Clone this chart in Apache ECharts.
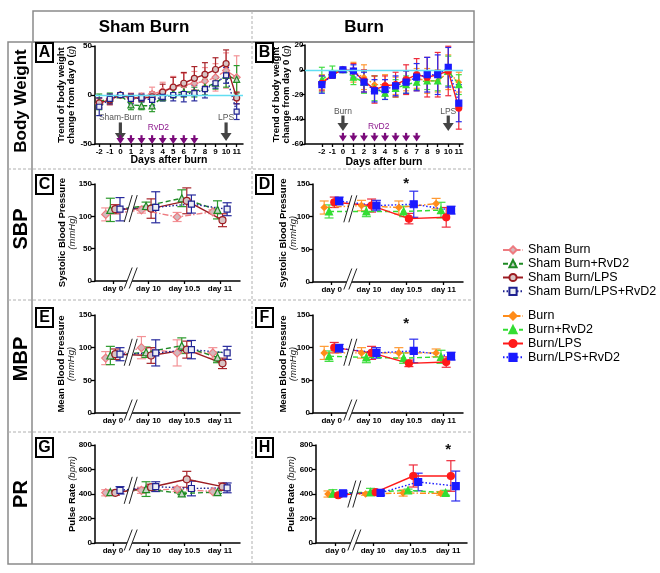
<!DOCTYPE html>
<html><head><meta charset="utf-8">
<script src="https://cdn.jsdelivr.net/npm/echarts@6/dist/echarts.min.js"></script>
<style>html,body{margin:0;padding:0;background:#fff}#c{width:660px;height:573px}</style>
</head><body><div id="c"></div>
<script>
const FONT = '"Liberation Sans", Arial, Helvetica, sans-serif';

// ---------- Body weight (A: sham, B: burn) ----------
const bwDays = [-2,-1,0,1,2,3,4,5,6,7,8,9,10,11];
const bwShamBurn        = [-9,-4,0,-3,-2,1,4,8,10,12,14,18,25,18];
const bwShamBurnErr     = [5,5,2,5,4,7,9,11,12,12,14,14,18,22];
const bwShamRvD2        = [-7,-3,0,-10,-11,-11,-2,2,3,3,8,12,20,16];
const bwShamRvD2Err     = [8,5,2,5,4,6,4,5,5,5,8,6,12,14];
const bwShamLPS         = [-8,-5,0,-3,-3,-2,3,8,12,17,21,26,32,-3];
const bwShamLPSErr      = [5,5,2,4,3,5,8,10,11,12,12,12,14,6];
const bwShamLPSRvD2     = [-12,-4,0,-4,-3,-5,-2,0,1,2,6,12,20,-17];
const bwShamLPSRvD2Err  = [9,5,2,5,4,6,4,6,8,8,9,5,8,8];
const bwBurn            = [-10,-4,0,-2,-6,-12,-12,-13,-9,-7,-9,-9,-2,-10];
const bwBurnErr         = [6,3,1,8,10,7,8,7,8,8,10,9,14,8];
const bwBurnRvD2        = [-8,-2,0,-6,-10,-15,-19,-15,-12,-10,-9,-9,-1,-12];
const bwBurnRvD2Err     = [10,5,1,6,9,10,5,7,7,6,7,8,12,8];
const bwBurnLPS         = [-11,-4,0,-1,-9,-16,-13,-12,-8,-4,-6,-4,-1,-31];
const bwBurnLPSErr      = [6,3,1,6,9,11,8,10,12,13,16,18,20,17];
const bwBurnLPSRvD2     = [-12,-4,0,-1,-10,-17,-16,-13,-10,-6,-4,-4,2,-27];
const bwBurnLPSRvD2Err  = [7,3,1,5,8,9,8,8,9,11,14,16,16,15];

// injection schedule
const rvd2Days = [0,1,2,3,4,5,6,7];
const injDays = [0,10];
const injLabelsSham = ['Sham-Burn','LPS'];
const injLabelsBurn = ['Burn','LPS'];

// ---------- Hemodynamics (C-H) ----------
const hemoLabels = ['day 0','day 10','day 10.5','day 11'];
const hemoPos = [0,1,2,3];

const sbpShamBurn=[103,110,99,107],  sbpShamBurnErr=[10,5,7,3];
const sbpShamRvD2=[110,116,128,110], sbpShamRvD2Err=[18,6,13,14];
const sbpShamLPS=[111,112,124,94],   sbpShamLPSErr=[7,15,20,10];
const sbpShamLPSRvD2=[111,114,119,111], sbpShamLPSRvD2Err=[18,24,14,10];
const sbpBurn=[114,117,114,120],     sbpBurnErr=[10,8,10,8];
const sbpBurnRvD2=[108,108,108,110], sbpBurnRvD2Err=[10,8,8,12];
const sbpBurnLPS=[122,117,97,99],    sbpBurnLPSErr=[8,10,8,15];
const sbpBurnLPSRvD2=[124,117,119,110], sbpBurnLPSRvD2Err=[6,8,20,6];

const mbpShamBurn=[84,100,92,92],    mbpShamBurnErr=[10,17,20,8];
const mbpShamRvD2=[88,93,103,85],    mbpShamRvD2Err=[14,8,12,8];
const mbpShamLPS=[90,88,97,76],      mbpShamLPSErr=[8,12,13,8];
const mbpShamLPSRvD2=[90,92,97,92],  mbpShamLPSRvD2Err=[10,20,14,10];
const mbpBurn=[92,92,92,92],         mbpBurnErr=[10,8,8,6];
const mbpBurnRvD2=[87,85,84,86],     mbpBurnRvD2Err=[8,8,8,10];
const mbpBurnLPS=[100,92,76,78],     mbpBurnLPSErr=[8,10,5,8];
const mbpBurnLPSRvD2=[99,92,95,87],  mbpBurnLPSRvD2Err=[6,8,18,6];

const prShamBurn=[410,430,440,420],  prShamBurnErr=[25,25,20,10];
const prShamRvD2=[415,440,405,415],  prShamRvD2Err=[10,60,10,10];
const prShamLPS=[410,455,520,460],   prShamLPSErr=[20,25,65,30];
const prShamLPSRvD2=[430,460,445,450], prShamLPSRvD2Err=[30,40,60,40];
const prBurn=[400,400,408,405],      prBurnErr=[25,10,25,15];
const prBurnRvD2=[405,416,430,410],  prBurnRvD2Err=[30,30,10,20];
const prBurnLPS=[390,415,547,547],   prBurnLPSErr=[15,15,90,125];
const prBurnLPSRvD2=[405,410,498,465], prBurnLPSRvD2Err=[20,20,72,122];

// significance marks: [position, value]
const sigSBP = [[2,150]];
const sigMBP = [[2,136]];
const sigPR  = [[3,760]];

const shamNames = ['Sham Burn','Sham Burn+RvD2','Sham Burn/LPS','Sham Burn/LPS+RvD2'];
const burnNames = ['Burn','Burn+RvD2','Burn/LPS','Burn/LPS+RvD2'];

// ---------- styles ----------
const shamStyles = [
  {color:'#ee7b80', err:'#f39296', dash:[6,2,1.5,2], symbol:'diamond', size:8, fill:'#d4b8bc'},
  {color:'#1f8a24', err:'#2c9a2c', dash:[5,3], symbol:'triangle', size:7, fill:'#c8d4c8'},
  {color:'#9c1c22', err:'#a8242a', dash:'solid', symbol:'circle', size:7, fill:'#d8c4c4'},
  {color:'#1e2190', err:'#26299c', dash:[1.5,2], symbol:'rect', size:6, fill:'#eceef4'}
];
const burnStyles = [
  {color:'#ff8c1a', err:'#ff9a33', dash:[6,2,1.5,2], symbol:'diamond', size:6, fill:'#ff8c1a'},
  {color:'#33dd33', err:'#44dd44', dash:[5,3], symbol:'triangle', size:7, fill:'#33dd33'},
  {color:'#ff1a1a', err:'#ee2b3b', dash:'solid', symbol:'circle', size:7, fill:'#ff1a1a'},
  {color:'#1a1aff', err:'#2a2aee', dash:[1.5,2], symbol:'rect', size:7, fill:'#1a1aff'}
];
const dodge = [-0.2,-0.07,0.07,0.2];

const richName = {
  b:{fontWeight:'bold', fontSize:9.5, fontFamily:FONT, color:'#000'},
  i:{fontStyle:'italic', fontSize:9.5, fontFamily:FONT, color:'#222'}
};

const panels = [
  {grid:{left:95,top:46,width:148,height:98}, xmin:-2.4, xmax:11.6, ymin:-50, ymax:50, yint:50,
   xs:bwDays, sets:[[bwShamBurn,bwShamBurnErr],[bwShamRvD2,bwShamRvD2Err],[bwShamLPS,bwShamLPSErr],[bwShamLPSRvD2,bwShamLPSRvD2Err]],
   names:shamNames, styles:shamStyles, bw:true, nameGap:19, labMargin:3, xName:'Days after burn', xNameGap:11,
   yName:'{b|Trend of body weight}\n{b|change from day 0 (}{i|g}{b|)}', inj:injLabelsSham,
   ann:{gTop:-28,gBot:-47,gLab:-23.5,pTop:-41,pBot:-50,rx:3.6,ry:-33}},
  {grid:{left:305,top:45,width:158,height:99}, xmin:-3.6, xmax:11.4, ymin:-60, ymax:20, yint:20,
   xs:bwDays, sets:[[bwBurn,bwBurnErr],[bwBurnRvD2,bwBurnRvD2Err],[bwBurnLPS,bwBurnLPSErr],[bwBurnLPSRvD2,bwBurnLPSRvD2Err]],
   names:burnNames, styles:burnStyles, bw:true, nameGap:14, labMargin:1.5, xName:'Days after burn', xNameGap:13,
   yName:'{b|Trend of body weight}\n{b|change from day 0 (}{i|g}{b|)}', inj:injLabelsBurn,
   ann:{gTop:-37,gBot:-49.5,gLab:-33.5,pTop:-51,pBot:-58,rx:3.4,ry:-46}},
  {grid:{left:95,top:184,width:145,height:97}, xmin:-0.5, xmax:3.56, ymin:0, ymax:150, yint:50,
   xs:hemoPos, sets:[[sbpShamBurn,sbpShamBurnErr],[sbpShamRvD2,sbpShamRvD2Err],[sbpShamLPS,sbpShamLPSErr],[sbpShamLPSRvD2,sbpShamLPSRvD2Err]],
   names:shamNames, styles:shamStyles, nameGap:18, labMargin:3, yName:'{b|Systolic Blood Pressure}\n{i|(mmHg)}', brk:112, sig:[]},
  {grid:{left:313,top:184,width:150,height:98}, xmin:-0.5, xmax:3.52, ymin:0, ymax:150, yint:50,
   xs:hemoPos, sets:[[sbpBurn,sbpBurnErr],[sbpBurnRvD2,sbpBurnRvD2Err],[sbpBurnLPS,sbpBurnLPSErr],[sbpBurnLPSRvD2,sbpBurnLPSRvD2Err]],
   names:burnNames, styles:burnStyles, nameGap:15, labMargin:3, yName:'{b|Systolic Blood Pressure}\n{i|(mmHg)}', brk:112, sig:sigSBP},
  {grid:{left:95,top:315,width:145,height:98}, xmin:-0.5, xmax:3.56, ymin:0, ymax:150, yint:50,
   xs:hemoPos, sets:[[mbpShamBurn,mbpShamBurnErr],[mbpShamRvD2,mbpShamRvD2Err],[mbpShamLPS,mbpShamLPSErr],[mbpShamLPSRvD2,mbpShamLPSRvD2Err]],
   names:shamNames, styles:shamStyles, nameGap:19, labMargin:3, yName:'{b|Mean Blood Pressure}\n{i|(mmHg)}', brk:93, sig:[]},
  {grid:{left:313,top:315,width:150,height:98}, xmin:-0.5, xmax:3.52, ymin:0, ymax:150, yint:50,
   xs:hemoPos, sets:[[mbpBurn,mbpBurnErr],[mbpBurnRvD2,mbpBurnRvD2Err],[mbpBurnLPS,mbpBurnLPSErr],[mbpBurnLPSRvD2,mbpBurnLPSRvD2Err]],
   names:burnNames, styles:burnStyles, nameGap:15, labMargin:3, yName:'{b|Mean Blood Pressure}\n{i|(mmHg)}', brk:93, sig:sigMBP},
  {grid:{left:95,top:445,width:145,height:98}, xmin:-0.5, xmax:3.56, ymin:0, ymax:800, yint:200,
   xs:hemoPos, sets:[[prShamBurn,prShamBurnErr],[prShamRvD2,prShamRvD2Err],[prShamLPS,prShamLPSErr],[prShamLPSRvD2,prShamLPSRvD2Err]],
   names:shamNames, styles:shamStyles, nameGap:18, labMargin:3, yName:'{b|Pulse Rate }{i|(bpm)}', brk:430, sig:[]},
  {grid:{left:316,top:445,width:151,height:98}, xmin:-0.52, xmax:3.5, ymin:0, ymax:800, yint:200,
   xs:hemoPos, sets:[[prBurn,prBurnErr],[prBurnRvD2,prBurnRvD2Err],[prBurnLPS,prBurnLPSErr],[prBurnLPSRvD2,prBurnLPSRvD2Err]],
   names:burnNames, styles:burnStyles, nameGap:20, labMargin:3, yName:'{b|Pulse Rate }{i|(bpm)}', brk:400, sig:sigPR}
];

function errRender(cap, color, lw){
  return function(params, api){
    const x = api.value(0), lo = api.value(1), hi = api.value(2);
    const p1 = api.coord([x, lo]), p2 = api.coord([x, hi]);
    const st = {stroke: color, lineWidth: lw};
    return {type:'group', children:[
      {type:'line', shape:{x1:p1[0],y1:p1[1],x2:p2[0],y2:p2[1]}, style:st},
      {type:'line', shape:{x1:p1[0]-cap/2,y1:p1[1],x2:p1[0]+cap/2,y2:p1[1]}, style:st},
      {type:'line', shape:{x1:p2[0]-cap/2,y1:p2[1],x2:p2[0]+cap/2,y2:p2[1]}, style:st}
    ]};
  };
}

const grids=[], xAxes=[], yAxes=[], series=[];
panels.forEach((p, g) => {
  grids.push(Object.assign({containLabel:false}, p.grid));
  const axLine = {show:true, onZero:false, lineStyle:{color:'#000', width:1.5}};
  xAxes.push({gridIndex:g, type:'value', min:p.xmin, max:p.xmax,
    axisLine:axLine,
    axisTick:{show:true, customValues:p.xs, length:3, lineStyle:{color:'#000', width:1.3}},
    axisLabel:{customValues:p.xs, fontSize:8, fontWeight:'bold', fontFamily:FONT, color:'#000', margin:4,
      formatter: p.bw ? (v => String(v)) : (v => hemoLabels[hemoPos.indexOf(Math.round(v))])},
    splitLine:{show:false},
    name: p.xName || '', nameLocation:'middle', nameGap: p.xNameGap || 10, nameMoveOverlap:false,
    nameTextStyle:{fontSize:10.5, fontWeight:'bold', fontFamily:FONT, color:'#000'}
  });
  yAxes.push({gridIndex:g, type:'value', min:p.ymin, max:p.ymax, interval:p.yint,
    axisLine:{show:true, onZero:false, lineStyle:{color:'#000', width:1.5}},
    axisTick:{show:true, length:4, lineStyle:{color:'#000', width:1.3}},
    axisLabel:{fontSize:8, fontWeight:'bold', fontFamily:FONT, color:'#000', margin:p.labMargin},
    splitLine:{show:false},
    name:p.yName, nameLocation:'middle', nameRotate:90, nameGap:p.nameGap, nameMoveOverlap:false,
    nameTextStyle:{align:'center', rich:richName}
  });
  p.sets.forEach((set, s) => {
    const st = p.styles[s];
    const off = p.bw ? 0 : dodge[s];
    const mean = set[0], err = set[1];
    series.push({type:'custom', name:'err'+g+'_'+s, xAxisIndex:g, yAxisIndex:g, silent:true, z:2,
      data: p.xs.map((x,i)=>[x+off, mean[i]-err[i], mean[i]+err[i]]),
      encode:{x:0, y:[1,2]},
      renderItem: errRender(p.bw ? 6 : 9, st.err, 1.2)});
    const line = {type:'line', name:p.names[s], xAxisIndex:g, yAxisIndex:g, z:3,
      data: p.xs.map((x,i)=>[x+off, mean[i]]),
      symbol: st.symbol, symbolSize: p.bw ? st.size-1 : st.size,
      lineStyle:{color:st.color, width:1.4, type:st.dash},
      itemStyle:{color:st.fill, borderColor:st.color, borderWidth:1.2},
      emphasis:{disabled:true}};
    if (p.bw && s === 0) {
      line.markLine = {silent:true, symbol:'none', label:{show:false}, animation:false,
        lineStyle:{color:'#62def2', width:1.3, type:'solid'}, data:[{yAxis:0}]};
    }
    series.push(line);
  });
  if (p.bw) {
    const a = p.ann;
    series.push({type:'custom', xAxisIndex:g, yAxisIndex:g, silent:true, z:5,
      data: injDays.map((d,i)=>[d, a.gTop, a.gBot, i]),
      renderItem:(params, api)=>{
        const t = api.coord([api.value(0), api.value(1)]);
        const b = api.coord([api.value(0), api.value(2)]);
        const lab = api.coord([api.value(0), a.gLab]);
        const x = t[0];
        return {type:'group', children:[
          {type:'rect', shape:{x:x-1.6, y:t[1], width:3.2, height:b[1]-t[1]-6}, style:{fill:'#444'}},
          {type:'polygon', shape:{points:[[x-5.5,b[1]-8],[x+5.5,b[1]-8],[x,b[1]]]}, style:{fill:'#444'}},
          {type:'text', x:x, y:lab[1], style:{text:p.inj[api.value(3)], fill:'#555', font:'8.5px '+FONT, textAlign:'center', textVerticalAlign:'middle'}}
        ]};
      }});
    series.push({type:'custom', xAxisIndex:g, yAxisIndex:g, silent:true, z:5,
      data: rvd2Days.map(d=>[d, a.pTop, a.pBot]),
      renderItem:(params, api)=>{
        const t = api.coord([api.value(0), api.value(1)]);
        const b = api.coord([api.value(0), api.value(2)]);
        const x = t[0];
        const ch = [
          {type:'rect', shape:{x:x-1.1, y:t[1], width:2.2, height:b[1]-t[1]-5}, style:{fill:'#7a0a7a'}},
          {type:'polygon', shape:{points:[[x-4,b[1]-6],[x+4,b[1]-6],[x,b[1]]]}, style:{fill:'#7a0a7a'}}
        ];
        if (params.dataIndex === 0) {
          const r = api.coord([a.rx, a.ry]);
          ch.push({type:'text', x:r[0], y:r[1], style:{text:'RvD2', fill:'#8e1a8e', font:'8.5px '+FONT, textAlign:'center', textVerticalAlign:'middle'}});
        }
        return {type:'group', children:ch};
      }});
  } else {
    series.push({type:'custom', xAxisIndex:g, yAxisIndex:g, silent:true, z:10,
      data:[[0.5, p.brk, p.ymin]],
      renderItem:(params, api)=>{
        const u = api.coord([api.value(0), api.value(1)]);
        const d = api.coord([api.value(0), api.value(2)]);
        const mk = (cx, cy, h) => {
          const dx = 4, gap = 5;
          const pts = [[cx-gap/2-dx, cy+h/2],[cx-gap/2+dx, cy-h/2],[cx+gap/2+dx, cy-h/2],[cx+gap/2-dx, cy+h/2]];
          return [
            {type:'polygon', shape:{points:pts}, style:{fill:'#fff'}},
            {type:'line', shape:{x1:pts[0][0],y1:pts[0][1],x2:pts[1][0],y2:pts[1][1]}, style:{stroke:'#222', lineWidth:1}},
            {type:'line', shape:{x1:pts[3][0],y1:pts[3][1],x2:pts[2][0],y2:pts[2][1]}, style:{stroke:'#222', lineWidth:1}}
          ];
        };
        return {type:'group', children: mk(u[0], u[1], 27).concat(mk(d[0], d[1]-3, 21))};
      }});
    if (p.sig.length) {
      series.push({type:'custom', xAxisIndex:g, yAxisIndex:g, silent:true, z:6,
        data:p.sig,
        renderItem:(params, api)=>{
          const c = api.coord([api.value(0), api.value(1)]);
          return {type:'text', x:c[0], y:c[1], style:{text:'*', fill:'#111', font:'bold 15px '+FONT, textAlign:'center', textVerticalAlign:'middle'}};
        }});
    }
  }
});

const solid = {stroke:'#8a8a8a', lineWidth:1.5, fill:'none'};
const dashed = {stroke:'#b0b0b0', lineWidth:1, lineDash:[3,2]};
const graphics = [
  {type:'rect', shape:{x:33,y:11,width:441,height:31}, style:solid},
  {type:'rect', shape:{x:8,y:42,width:466,height:522}, style:solid},
  {type:'line', shape:{x1:32,y1:42,x2:32,y2:564}, style:solid},
  {type:'line', shape:{x1:252,y1:11,x2:252,y2:564}, style:dashed},
  {type:'line', shape:{x1:8,y1:169,x2:474,y2:169}, style:dashed},
  {type:'line', shape:{x1:8,y1:300,x2:474,y2:300}, style:dashed},
  {type:'line', shape:{x1:8,y1:432,x2:474,y2:432}, style:dashed},
  {type:'text', x:144, y:27, style:{text:'Sham Burn', font:'bold 17px '+FONT, fill:'#000', textAlign:'center', textVerticalAlign:'middle'}},
  {type:'text', x:364, y:27, style:{text:'Burn', font:'bold 17px '+FONT, fill:'#000', textAlign:'center', textVerticalAlign:'middle'}},
  {type:'text', x:21, y:101, rotation:Math.PI/2, style:{text:'Body Weight', font:'bold 17px '+FONT, fill:'#000', textAlign:'center', textVerticalAlign:'middle'}},
  {type:'text', x:21, y:229, rotation:Math.PI/2, style:{text:'SBP', font:'bold 20px '+FONT, fill:'#000', textAlign:'center', textVerticalAlign:'middle'}},
  {type:'text', x:21, y:359, rotation:Math.PI/2, style:{text:'MBP', font:'bold 20px '+FONT, fill:'#000', textAlign:'center', textVerticalAlign:'middle'}},
  {type:'text', x:21, y:494, rotation:Math.PI/2, style:{text:'PR', font:'bold 20px '+FONT, fill:'#000', textAlign:'center', textVerticalAlign:'middle'}}
];
const letters = [['A',36,43],['B',256,43],['C',36,175],['D',256,175],['E',36,308],['F',256,308],['G',36,438],['H',256,438]];
letters.forEach(([t,x,y])=>{
  graphics.push({type:'rect', shape:{x:x,y:y,width:17,height:19}, style:{fill:'#fff', stroke:'#000', lineWidth:2}});
  graphics.push({type:'text', x:x+8.5, y:y+10, style:{text:t, font:'bold 16px '+FONT, fill:'#000', textAlign:'center', textVerticalAlign:'middle'}});
});

const legendBase = {orient:'vertical', left:497, itemWidth:20, itemHeight:9, itemGap:0, selectedMode:false,
  textStyle:{fontSize:12.5, lineHeight:13.8, fontFamily:FONT, color:'#000'}};

const chart = echarts.init(document.getElementById('c'), null, {renderer:'canvas'});
chart.setOption({
  animation:false,
  backgroundColor:'#fff',
  grid:grids, xAxis:xAxes, yAxis:yAxes, series:series,
  legend:[Object.assign({top:238, data:shamNames}, legendBase), Object.assign({top:304, data:burnNames}, legendBase)],
  graphic:graphics
});
</script></body></html>
